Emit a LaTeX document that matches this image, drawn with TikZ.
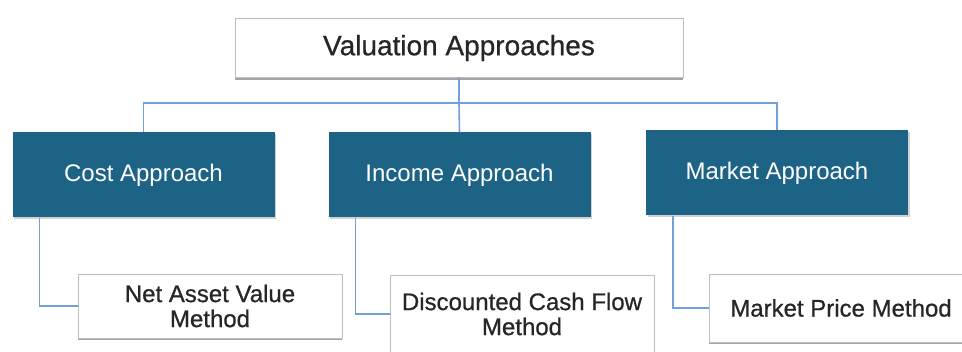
\documentclass[tikz,border=0pt]{standalone}
\usepackage{fontspec}
\setmainfont{Liberation Sans}
\newfontfamily\heavyfont[FakeBold=0.7]{Liberation Sans}
\usetikzlibrary{shadows}
\definecolor{approachblue}{RGB}{29,99,134}
\definecolor{wireblue}{RGB}{112,160,214}
\definecolor{ink}{RGB}{38,38,38}

\begin{document}
\begin{tikzpicture}[x=1pt,y=-1pt,
	head/.style={rectangle,draw=black!25,fill=white,text=ink,minimum width=448pt,minimum height=59pt,font=\heavyfont\fontsize{28}{32}\selectfont,drop shadow={shadow xshift=0pt,shadow yshift=-2.5pt,opacity=.7}},
	approach/.style={rectangle,fill=approachblue,text=white,minimum width=262pt,minimum height=85pt,font=\fontsize{24}{28}\selectfont,drop shadow={shadow xshift=1.5pt,shadow yshift=-1.5pt,opacity=.35}},
	method/.style={rectangle,draw=black!25,fill=white,text=ink,minimum width=264pt,align=center,font=\heavyfont\fontsize{24}{25}\selectfont,drop shadow={shadow xshift=0pt,shadow yshift=-2.5pt,opacity=.7}},
	wire/.style={draw=wireblue,line width=1.6pt}]
\clip (0,0) rectangle (962,352);
\fill[white] (0,0) rectangle (962,352);

\node [head] (top) at (459,48) {Valuation Approaches};
\coordinate (bus) at (459,103);

\node [approach] (cost) at (143.5,175) {Cost Approach};
\node [approach] (income) at (459.5,175) {Income Approach};
\node [approach] (market) at (777,173) {Market Approach};

\node [method,minimum height=64pt] (nav) at (210,306) {Net Asset Value\\Method};
\node [method,minimum height=78pt] (dcf) at (522,314) {Discounted Cash Flow\\Method};
\node [method,minimum height=68pt] (mpm) at (841,308) {Market Price Method};

% tree above the approaches
\draw [wire] (top.south) -- (bus) -- (income.north);
\draw [wire] (cost.north) |- (bus) -| (market.north);

% each approach down to its method
\draw [wire] ([xshift=-104pt]cost.south) |- (nav.west);
\draw [wire] ([xshift=-104pt]income.south) |- (dcf.west);
\draw [wire] ([xshift=-104pt]market.south) |- (mpm.west);
\end{tikzpicture}
\end{document}
